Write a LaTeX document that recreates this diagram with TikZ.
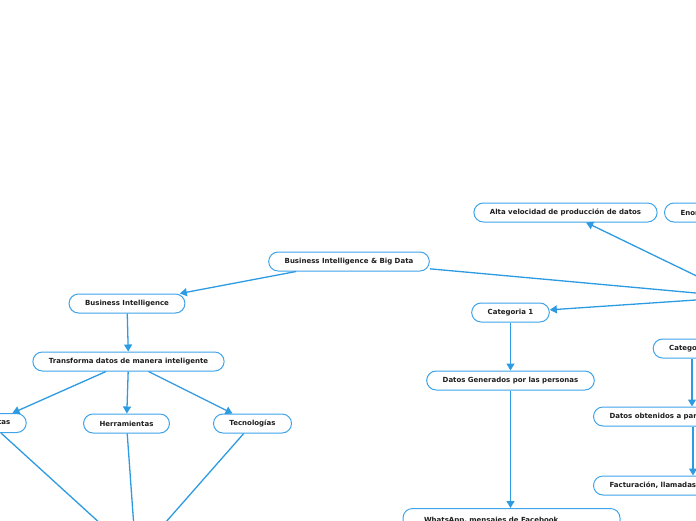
\documentclass[tikz,border=0pt]{standalone}
\usepackage{fontspec}
\setmainfont{DejaVu Sans}
\usepackage{xcolor}
\usetikzlibrary{arrows.meta}
\definecolor{mapblue}{HTML}{2C9BE2}
\definecolor{boxblue}{HTML}{3FA4EA}
\definecolor{maptext}{HTML}{1E1E1E}
\tikzset{
  topic/.style={draw=boxblue, line width=1pt, fill=white, rounded corners=9.5pt,
    minimum height=19pt, inner xsep=16pt, inner ysep=0pt, text=maptext,
    font=\fontsize{7}{8.5}\selectfont\bfseries},
  link/.style={draw=mapblue, line width=1.3pt, -{Triangle[length=7pt,width=8pt]}},
}

\begin{document}
\begin{tikzpicture}[x=1pt,y=-1pt]
  \useasboundingbox (0,0) rectangle (696,520);
  \clip (0,0) rectangle (696,520);
  % ends that lie outside the frame
  \coordinate (bigdata) at (740,297);
  \coordinate (sink) at (136,556);
  \coordinate (colb) at (693,0);
  % nodes
  \node[topic] (root) at (349,261.5) {Business Intelligence \& Big Data};
  \node[topic] (speed) at (565.5,212.5) {Alta velocidad de producción de datos};
  \node[topic, anchor=west] (volume) at (664,212.5) {Enorme volumen de datos};
  \node[topic] (bi) at (127,303.5) {Business Intelligence};
  \node[topic] (transform) at (128.5,361.5) {Transforma datos de manera inteligente};
  \node[topic] (questions) at (-10,423) {Preguntas};
  \node[topic] (tools) at (126.5,423.5) {Herramientas};
  \node[topic] (tech) at (252.5,423.5) {Tecnologías};
  \node[topic] (cat1) at (510.5,312.5) {Categoria 1};
  \node[topic] (people) at (510.5,380.5) {Datos Generados por las personas};
  \node[topic, anchor=north, text width=175pt, inner xsep=21pt, inner ysep=9pt,
    align=left] (social) at (511.5,508) {WhatsApp, mensajes de Facebook};
  \node[topic] (cat2) at (692,348.5) {Categoria 2};
  \node[topic, anchor=west] (machines) at (593,416.5) {Datos obtenidos a partir de las máquinas};
  \node[topic, anchor=west] (billing) at (593,485.5) {Facturación, llamadas, sensores};
  % links
  \draw[link] (root) -- (bi);
  \draw[link] (root) -- (bigdata);
  \draw[link] (bigdata) -- (speed);
  \draw[link] (bigdata) -- (cat1);
  \draw[link] (bigdata) -- (cat2);
  \draw[link] (bi) -- (transform);
  \draw[link] (transform) -- (questions);
  \draw[link] (transform) -- (tools);
  \draw[link] (transform) -- (tech);
  \draw[link] (questions) -- (sink);
  \draw[link] (tools) -- (sink);
  \draw[link] (tech) -- (sink);
  \draw[link] (cat1) -- (people);
  \draw[link] (people) -- (people |- social.north);
  \draw[link] (cat2) -- (cat2 |- machines.north);
  \draw[link] (machines.south -| colb) -- (billing.north -| colb);
\end{tikzpicture}
\end{document}
